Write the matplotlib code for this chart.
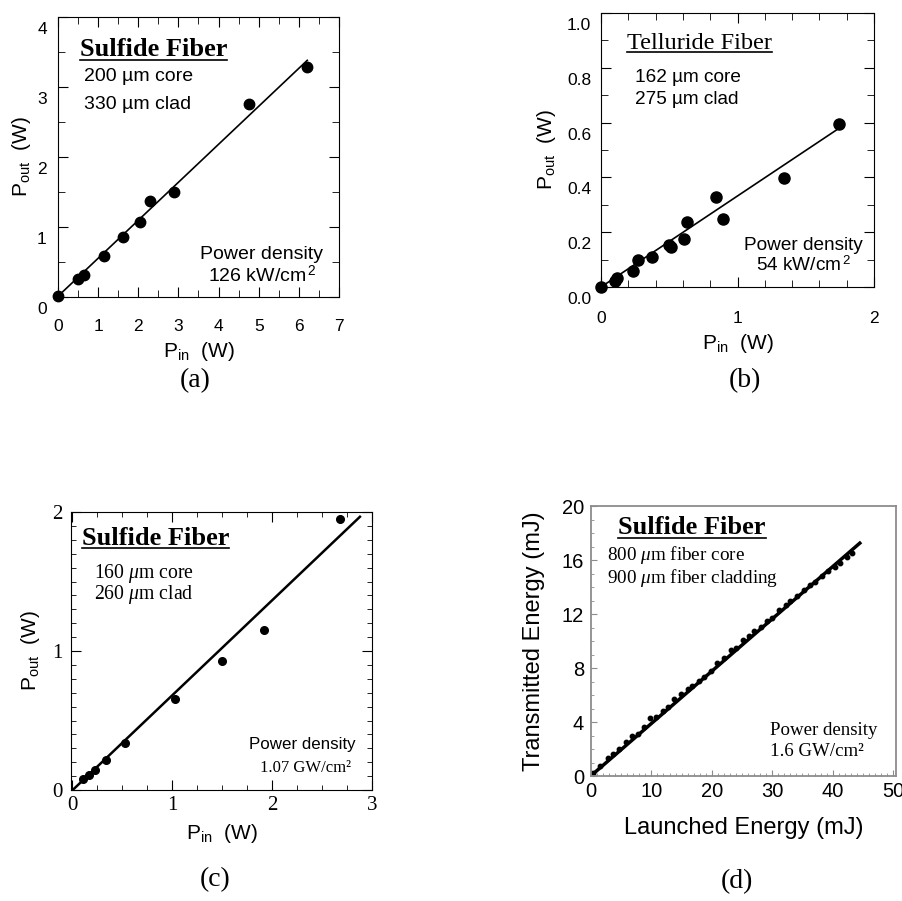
import numpy as np
import matplotlib
matplotlib.use('Agg')
from matplotlib import pyplot as plt
from matplotlib.ticker import MultipleLocator
import matplotlib.transforms as mtransforms
from matplotlib.lines import Line2D

plt.rcParams['font.family'] = 'Liberation Sans'
plt.rcParams['mathtext.fontset'] = 'custom'
plt.rcParams['mathtext.rm'] = 'Liberation Sans'
plt.rcParams['mathtext.it'] = 'Liberation Serif:italic'

SERIF = 'Liberation Serif'

# (a) sulfide fiber, 200 um core
a_pin = [0.0, 0.5, 0.64, 1.15, 1.63, 2.05, 2.3, 2.9, 4.76, 6.21]
a_pout = [0.01, 0.25, 0.31, 0.58, 0.85, 1.07, 1.37, 1.50, 2.75, 3.29]
a_fit_x = [0.0, 6.21]
a_fit_y = [0.01, 3.38]

# (b) telluride fiber
b_pin = [0.0, 0.10, 0.12, 0.235, 0.27, 0.375, 0.50, 0.51, 0.61, 0.63, 0.84, 0.89, 1.34, 1.74]
b_pout = [0.0, 0.02, 0.033, 0.057, 0.097, 0.11, 0.154, 0.145, 0.176, 0.236, 0.327, 0.247, 0.396, 0.596]
b_fit_x = [0.0, 1.74]
b_fit_y = [0.0, 0.578]

# (c) sulfide fiber, 160 um core
c_pin = [0.11, 0.17, 0.23, 0.34, 0.53, 1.03, 1.50, 1.92, 2.68]
c_pout = [0.08, 0.11, 0.144, 0.216, 0.337, 0.654, 0.925, 1.154, 1.947]
c_fit_x = [0.0, 2.88]
c_fit_y = [-0.005, 1.966]

# (d) sulfide fiber, pulsed
d_launch = [0.4, 1.5, 2.8, 3.7, 4.7, 5.8, 6.8, 7.7, 8.8, 9.7, 10.8, 11.9, 12.7, 13.8,
            14.9, 16.0, 16.8, 17.9, 18.7, 19.8, 20.9, 22.0, 23.1, 24.0, 25.1, 26.2,
            27.0, 28.1, 29.2, 30.0, 31.1, 32.2, 33.0, 34.1, 35.2, 36.3, 37.1, 38.2,
            39.3, 40.4, 41.2, 42.3, 43.2]
d_trans = [0.25, 0.75, 1.35, 1.6, 2.0, 2.5, 2.95, 3.15, 3.6, 4.3, 4.4, 4.8, 5.1, 5.7,
           6.05, 6.45, 6.7, 7.05, 7.35, 7.8, 8.35, 8.75, 9.3, 9.45, 10.1, 10.35,
           10.75, 11.05, 11.45, 11.7, 12.3, 12.65, 12.95, 13.35, 13.75, 14.15, 14.4, 14.85,
           15.2, 15.5, 15.75, 16.2, 16.55]
d_fit_x = [0.2, 44.5]
d_fit_y = [0.1, 17.25]

fig = plt.figure(figsize=(9.03, 9.01), dpi=100)

def shift_labels(ax, which, dy_px):
    off = mtransforms.ScaledTranslation(0, -dy_px / 100.0, fig.dpi_scale_trans)
    labels = ax.get_yticklabels() if which == 'y' else ax.get_xticklabels()
    for lab in labels:
        lab.set_transform(lab.get_transform() + off)

underlines = []

# ---------- (a)
ax1 = fig.add_axes([0.0642, 0.6704, 0.3112, 0.3108])
ax1.plot(a_fit_x, a_fit_y, c='k', lw=1.2)
ax1.plot(a_pin, a_pout, 'o', c='k', ms=7.5, clip_on=False)
ax1.set_xlim(0, 7)
ax1.set_ylim(0, 4)
ax1.xaxis.set_major_locator(MultipleLocator(1))
ax1.xaxis.set_minor_locator(MultipleLocator(0.5))
ax1.yaxis.set_major_locator(MultipleLocator(1))
ax1.yaxis.set_minor_locator(MultipleLocator(0.5))
ax1.tick_params(which='both', direction='in', top=True, right=True, labelsize=12.5)
ax1.tick_params(which='major', length=7)
ax1.tick_params(which='minor', length=5)
ax1.tick_params(axis='x', pad=16)
ax1.tick_params(axis='y', pad=8)
shift_labels(ax1, 'y', 11)
ax1.set_xlabel('P$_{\\rm in}$  (W)', fontsize=15)
ax1.set_ylabel('P$_{\\rm out}$  (W)', fontsize=15)
ax1.xaxis.set_label_coords(0.5, -0.155)
ax1.yaxis.set_label_coords(-0.09, 0.5)
t = ax1.text(0.078, 0.882, 'Sulfide Fiber', transform=ax1.transAxes, family=SERIF,
             fontweight='bold', fontsize=19, va='center')
underlines.append(t)
ax1.text(0.093, 0.786, '200 µm core', transform=ax1.transAxes, fontsize=14, va='center')
ax1.text(0.093, 0.686, '330 µm clad', transform=ax1.transAxes, fontsize=14, va='center')
ax1.text(0.725, 0.11, 'Power density\n126 kW/cm$^{\\,2}$', transform=ax1.transAxes,
         fontsize=14, ha='center', va='center', linespacing=1.1)
fig.text(195 / 903, 1 - 381 / 901, '(a)', family=SERIF, fontsize=20, ha='center', va='center')

# ---------- (b)
ax2 = fig.add_axes([0.6656, 0.6815, 0.3023, 0.3041])
ax2.plot(b_fit_x, b_fit_y, c='k', lw=1.2)
ax2.plot(b_pin, b_pout, 'o', c='k', ms=8, clip_on=False)
ax2.set_xlim(0, 2)
ax2.set_ylim(0, 1.0)
ax2.xaxis.set_major_locator(MultipleLocator(1))
ax2.xaxis.set_minor_locator(MultipleLocator(0.2))
ax2.yaxis.set_major_locator(MultipleLocator(0.2))
ax2.yaxis.set_minor_locator(MultipleLocator(0.1))
ax2.set_yticks([0, 0.2, 0.4, 0.6, 0.8, 1.0], ['0.0', '0.2', '0.4', '0.6', '0.8', '1.0'])
ax2.tick_params(which='both', direction='in', top=True, right=True, labelsize=12.5)
ax2.tick_params(which='major', length=7)
ax2.tick_params(which='minor', length=5)
ax2.tick_params(axis='x', pad=17)
ax2.tick_params(axis='y', pad=7)
shift_labels(ax2, 'y', 11)
ax2.set_xlabel('P$_{\\rm in}$  (W)', fontsize=15)
ax2.set_ylabel('P$_{\\rm out}$  (W)', fontsize=15)
ax2.xaxis.set_label_coords(0.5, -0.164)
ax2.yaxis.set_label_coords(-0.157, 0.5)
t = ax2.text(0.095, 0.89, 'Telluride Fiber', transform=ax2.transAxes, family=SERIF,
             fontsize=17.5, va='center')
underlines.append(t)
ax2.text(0.125, 0.763, '162 µm core', transform=ax2.transAxes, fontsize=13.7, va='center')
ax2.text(0.125, 0.686, '275 µm clad', transform=ax2.transAxes, fontsize=13.7, va='center')
ax2.text(0.74, 0.112, 'Power density\n54 kW/cm$^{\\,2}$', transform=ax2.transAxes,
         fontsize=13.7, ha='center', va='center', linespacing=1.1)
fig.text(745 / 903, 1 - 381 / 901, '(b)', family=SERIF, fontsize=20, ha='center', va='center')

# ---------- (c)
ax3 = fig.add_axes([0.0786, 0.1232, 0.3333, 0.3085])
ax3.plot(c_fit_x, c_fit_y, c='k', lw=1.8)
ax3.plot(c_pin, c_pout, 'o', c='k', ms=5.5, clip_on=False)
ax3.set_xlim(-0.01, 3)
ax3.set_ylim(0, 2)
ax3.xaxis.set_major_locator(MultipleLocator(1))
ax3.xaxis.set_minor_locator(MultipleLocator(0.25))
ax3.yaxis.set_major_locator(MultipleLocator(1))
ax3.yaxis.set_minor_locator(MultipleLocator(0.1))
ax3.tick_params(which='both', direction='in', top=True, right=True, labelsize=15)
ax3.tick_params(which='major', length=7)
ax3.tick_params(which='minor', length=3.5)
ax3.tick_params(axis='x', pad=4)
ax3.tick_params(axis='y', pad=6)
for lab in ax3.get_xticklabels() + ax3.get_yticklabels():
    lab.set_family(SERIF)
ax3.set_xlabel('P$_{\\rm in}$  (W)', fontsize=15)
ax3.set_ylabel('P$_{\\rm out}$  (W)', fontsize=15)
ax3.xaxis.set_label_coords(0.5, -0.115)
ax3.yaxis.set_label_coords(-0.096, 0.5)
t = ax3.text(0.036, 0.906, 'Sulfide Fiber', transform=ax3.transAxes, family=SERIF,
             fontweight='bold', fontsize=19, va='center')
underlines.append(t)
ax3.text(0.075, 0.78, '160 $\\mu$m core', transform=ax3.transAxes, family=SERIF,
         fontsize=14.2, va='center')
ax3.text(0.075, 0.705, '260 $\\mu$m clad', transform=ax3.transAxes, family=SERIF,
         fontsize=14.2, va='center')
ax3.text(0.77, 0.162, 'Power density', transform=ax3.transAxes, fontsize=12.2,
         ha='center', va='center')
ax3.text(0.78, 0.08, '1.07 GW/cm²', transform=ax3.transAxes, family=SERIF,
         fontsize=12, ha='center', va='center')
fig.text(215 / 903, 1 - 880 / 901, '(c)', family=SERIF, fontsize=20, ha='center', va='center')

# ---------- (d)
ax4 = fig.add_axes([0.6545, 0.1387, 0.3378, 0.2997])
ax4.plot(d_fit_x, d_fit_y, c='k', lw=2.5)
ax4.plot(d_launch, d_trans, 'o', c='k', ms=3.2)
ax4.set_xlim(0, 50.5)
ax4.set_ylim(0, 20)
ax4.xaxis.set_major_locator(MultipleLocator(10))
ax4.xaxis.set_minor_locator(MultipleLocator(1))
ax4.yaxis.set_major_locator(MultipleLocator(4))
ax4.yaxis.set_minor_locator(MultipleLocator(1))
for s in ax4.spines.values():
    s.set_color('#8c8c8c')
    s.set_linewidth(1.3)
ax4.tick_params(which='both', direction='in', color='#8c8c8c', labelsize=14.5)
ax4.tick_params(which='major', length=4)
ax4.tick_params(which='minor', length=2.5)
ax4.tick_params(axis='x', pad=4)
ax4.tick_params(axis='y', pad=5)
ax4.set_xlabel('Launched Energy (mJ)', fontsize=17)
ax4.set_ylabel('Transmitted Energy (mJ)', fontsize=17)
ax4.xaxis.set_label_coords(0.5, -0.152)
ax4.yaxis.set_label_coords(-0.15, 0.5)
t = ax4.text(0.089, 0.92, 'Sulfide Fiber', transform=ax4.transAxes, family=SERIF,
             fontweight='bold', fontsize=19, va='center')
underlines.append(t)
ax4.text(0.053, 0.818, '800 $\\mu$m fiber core', transform=ax4.transAxes, family=SERIF,
         fontsize=13.8, va='center')
ax4.text(0.053, 0.735, '900 $\\mu$m fiber cladding', transform=ax4.transAxes, family=SERIF,
         fontsize=13.8, va='center')
ax4.text(0.587, 0.17, 'Power density', transform=ax4.transAxes, family=SERIF,
         fontsize=13.6, va='center')
ax4.text(0.587, 0.089, '1.6 GW/cm²', transform=ax4.transAxes, family=SERIF,
         fontsize=13.6, va='center')
fig.text(737 / 903, 1 - 882 / 901, '(d)', family=SERIF, fontsize=20, ha='center', va='center')

# underline the fiber titles
fig.canvas.draw()
r = fig.canvas.get_renderer()
for t in underlines:
    bb = t.get_window_extent(renderer=r)
    y = bb.y0 + 1.5
    fig.add_artist(Line2D([bb.x0 / fig.bbox.width, bb.x1 / fig.bbox.width],
                          [y / fig.bbox.height, y / fig.bbox.height],
                          transform=fig.transFigure, c='k', lw=1.2))

fig.savefig('out.png', dpi=100)
